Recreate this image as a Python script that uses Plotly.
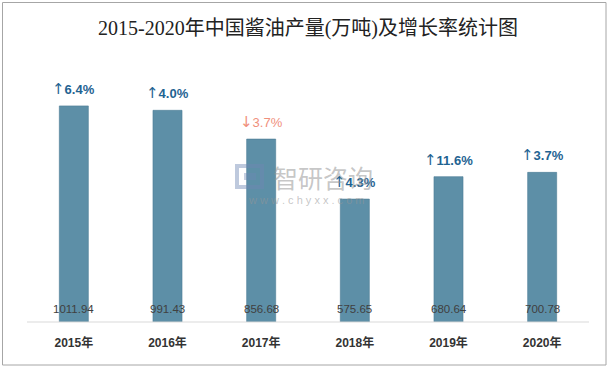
import plotly.graph_objects as go

years = ["2015年", "2016年", "2017年", "2018年", "2019年", "2020年"]
output = [1011.94, 991.43, 856.68, 575.65, 680.64, 700.78]
growth_arrow = ["↑", "↑", "↓", "↑", "↑", "↑"]
growth_pct = ["6.4%", "4.0%", "3.7%", "4.3%", "11.6%", "3.7%"]
growth_up = [True, True, False, True, True, True]

L, R, T, B = 27, 589, 60, 322
def px(xp): return (xp - L) / (R - L)
def py(yp): return (B - yp) / (B - T)

fig = go.Figure()
fig.add_trace(go.Bar(
    x=years, y=output, width=0.31,
    marker=dict(color="#5D8FA7", line=dict(color="#4B7C95", width=0.6)),
    hoverinfo="skip",
))

annotations = []
for yr, v in zip(years, output):
    annotations.append(dict(x=yr, y=0, xref="x", yref="y", text=f"{v:.2f}", showarrow=False,
                            yanchor="middle", yshift=13,
                            font=dict(family="Liberation Sans, Arial", size=11.5, color="#404040")))
for yr, v, ar, g, up in zip(years, output, growth_arrow, growth_pct, growth_up):
    arrow = f"<span style='font-family:DejaVu Sans;font-size:15px'>{ar}</span>"
    txt = f"{arrow}<b>{g}</b>" if up else f"{arrow}{g}"
    annotations.append(dict(x=yr, y=v, xref="x", yref="y", text=txt, showarrow=False,
                            yanchor="middle", yshift=17,
                            font=dict(family="Liberation Sans, Arial", size=13,
                                      color="#1F6392" if up else "#F0907C")))
# watermark
annotations.append(dict(x=px(323), y=py(177), xref="paper", yref="paper", text="智研咨询", showarrow=False,
                        font=dict(family="Noto Sans CJK SC", size=25, color="rgba(150,150,150,0.55)")))
annotations.append(dict(x=px(306), y=py(200), xref="paper", yref="paper", text="w w w . c h y x x . c o m", showarrow=False,
                        font=dict(family="Liberation Sans", size=11, color="rgba(150,150,150,0.55)")))

shapes = [
    dict(type="rect", xref="paper", yref="paper", x0=px(2.5), x1=px(606), y0=py(2.5), y1=py(365),
         line=dict(color="#A6A6A6", width=1), fillcolor="rgba(0,0,0,0)", layer="below"),
    dict(type="line", xref="paper", yref="paper", x0=0, x1=1, y0=0, y1=0,
         line=dict(color="#D9D9D9", width=1)),
    # logo approximation
    dict(type="rect", xref="paper", yref="paper", x0=px(237), x1=px(262), y0=py(166), y1=py(187),
         line=dict(color="rgba(110,135,180,0.45)", width=4), fillcolor="rgba(0,0,0,0)"),
    dict(type="rect", xref="paper", yref="paper", x0=px(244), x1=px(256), y0=py(173), y1=py(180),
         line=dict(width=0), fillcolor="rgba(110,135,180,0.4)"),
]

fig.update_layout(
    width=612, height=370,
    margin=dict(l=L, r=612 - R, t=T, b=370 - B, autoexpand=False),
    paper_bgcolor="white", plot_bgcolor="white",
    showlegend=False,
    title=dict(text="2015-2020年中国酱油产量(万吨)及增长率统计图", x=0.5, xref="paper", xanchor="center",
               y=1 - 28 / 370, yanchor="middle",
               font=dict(family="Liberation Serif, Noto Sans CJK SC", size=20, color="#222222")),
    xaxis=dict(showgrid=False, showline=False, ticks="", ticklabelstandoff=12, automargin=False,
               tickfont=dict(family="Liberation Sans, Noto Sans CJK SC", size=12, color="#333333", weight="bold")),
    yaxis=dict(range=[0, 1227], visible=False, showgrid=False, automargin=False),
    annotations=annotations,
    shapes=shapes,
    bargap=0.69,
)

fig.write_html("out.html", config={"displayModeBar": False},
               post_script="document.body.style.margin='0';document.body.style.padding='0';")
